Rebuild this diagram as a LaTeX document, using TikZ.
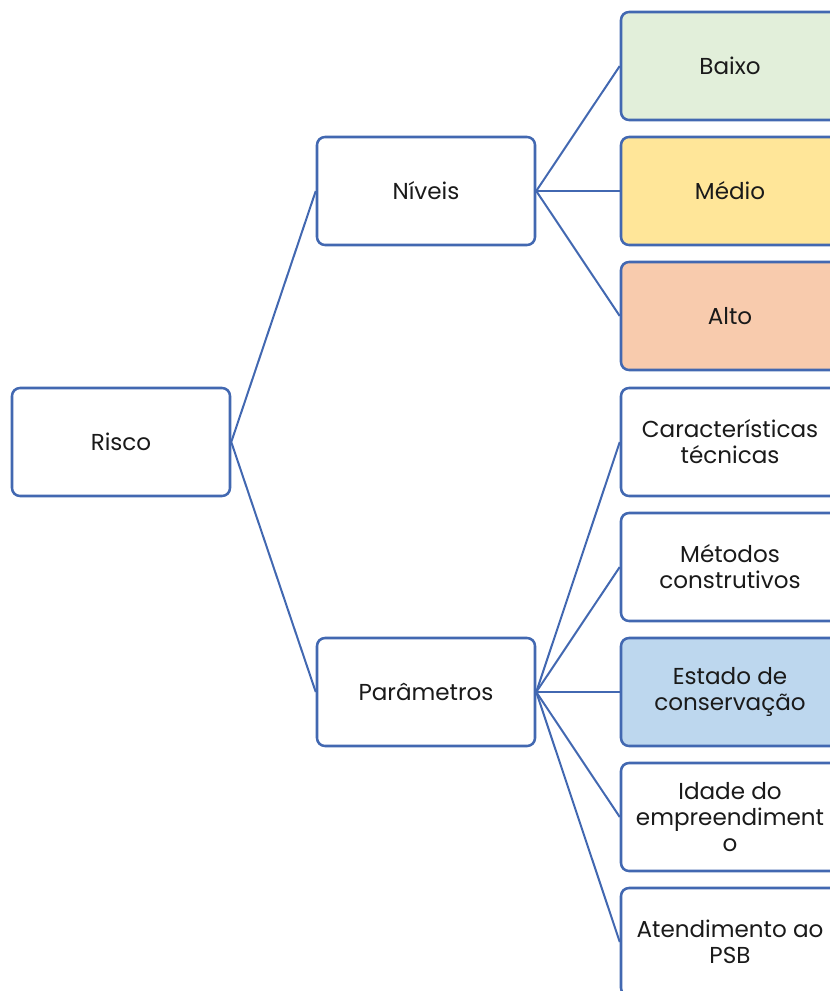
\documentclass[tikz,border=0pt]{standalone}
\usepackage{fontspec}
\setmainfont{Poppins}
\definecolor{edge}{HTML}{4268B1}
\definecolor{fgreen}{HTML}{E2EFDA}
\definecolor{fyellow}{HTML}{FFE699}
\definecolor{forange}{HTML}{F8CBAD}
\definecolor{fblue}{HTML}{BDD7EE}
\definecolor{txt}{HTML}{1A1A1A}
\begin{document}
\begin{tikzpicture}[x=0.75pt,y=-0.75pt,
  box/.style={draw=edge, line width=1.9pt, rounded corners=6pt, fill=white,
    minimum width=163.5pt, minimum height=81pt, align=center, inner sep=2pt,
    font=\fontsize{17.3}{19.5}\selectfont, text=txt},
  link/.style={draw=edge, line width=1.5pt}]
\useasboundingbox (0,0) rectangle (830,991);
\clip (0,0) rectangle (830,991);
\node[box] (risco) at (121,442) {Risco};
\node[box] (niveis) at (426,191) {Níveis};
\node[box] (param) at (426,692) {Parâmetros};
\node[box, fill=fgreen] (baixo) at (730,66) {Baixo};
\node[box, fill=fyellow] (medio) at (730,191) {Médio};
\node[box, fill=forange] (alto) at (730,316) {Alto};
\node[box] (carac) at (730,442) {Características\\técnicas};
\node[box] (metodos) at (730,567) {Métodos\\construtivos};
\node[box, fill=fblue] (estado) at (730,692) {Estado de\\conservação};
\node[box] (idade) at (730,817) {Idade do\\empreendiment\\o};
\node[box] (atend) at (730,942) {Atendimento ao\\PSB};
\draw[link] (risco.east) -- (niveis.west);
\draw[link] (risco.east) -- (param.west);
\foreach \t in {baixo,medio,alto}
  \draw[link] (niveis.east) -- (\t.west);
\foreach \t in {carac,metodos,estado,idade,atend}
  \draw[link] (param.east) -- (\t.west);
\end{tikzpicture}
\end{document}
